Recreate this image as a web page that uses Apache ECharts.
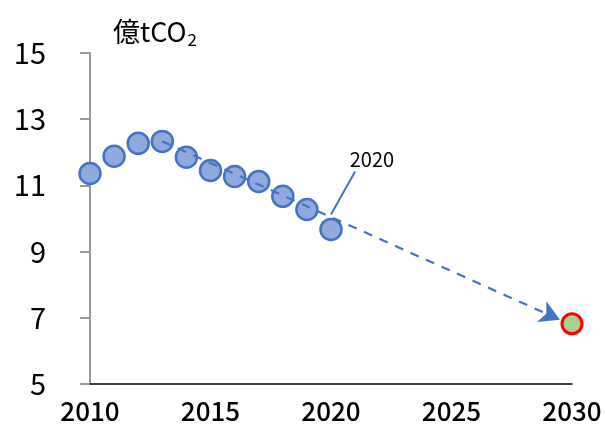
<!DOCTYPE html>
<html><head><meta charset="utf-8">
<script src="https://cdn.jsdelivr.net/npm/echarts@6/dist/echarts.min.js"></script>
<style>html,body{margin:0;padding:0;background:#fff}#c{width:605px;height:430px}</style>
</head><body><div id="c"></div>
<script>
const years = [2010,2011,2012,2013,2014,2015,2016,2017,2018,2019,2020];
const emissions = [11.36,11.88,12.27,12.33,11.85,11.45,11.27,11.12,10.67,10.27,9.67];
const targetYear = 2030;
const targetValue = 6.82;
const trendStart = [2013, 12.33];
const trendEnd = [2029.5, 6.94];
const xTicks = [2010, 2015, 2020, 2025, 2030];
const yTicks = [5, 7, 9, 11, 13, 15];
const annotationText = '2020';
const leaderFrom = [2021.0, 11.42];
const leaderTo = [2020.0, 10.12];
const annotationPos = [2021.7, 11.8];

const FONT = '"Noto Sans CJK JP", "Noto Sans", sans-serif';
const chart = echarts.init(document.getElementById('c'), null, {renderer:'canvas'});
chart.setOption({
  animation:false,
  backgroundColor:'#fff',
  title:{
    left:108, top:10,
    text:'{a|億tCO}{s|2}',
    textStyle:{fontWeight:'normal', rich:{
      a:{fontSize:27, color:'#000', fontFamily:FONT, fontWeight:'normal'},
      s:{fontSize:17, color:'#000', fontFamily:FONT, fontWeight:'normal', padding:[16,0,0,1]}
    }}
  },
  grid:{left:90, right:33, top:53, bottom:46, containLabel:false, outerBoundsMode:'none'},
  xAxis:{
    type:'value', min:xTicks[0], max:xTicks[xTicks.length-1], interval:5,
    axisLine:{show:true, onZero:false, lineStyle:{color:'#000', width:1.5}},
    axisTick:{show:false},
    splitLine:{show:false},
    axisLabel:{fontSize:26, color:'#000', margin:14, fontWeight:500, fontFamily:FONT, formatter:v=>String(v)}
  },
  yAxis:{
    type:'value', min:yTicks[0], max:yTicks[yTicks.length-1], interval:2,
    axisLine:{show:true, lineStyle:{color:'#999', width:2}},
    axisTick:{show:true, length:10, lineStyle:{color:'#999', width:2}},
    splitLine:{show:false},
    axisLabel:{fontSize:29, color:'#000', margin:44, fontFamily:FONT}
  },
  series:[
    {
      type:'scatter', z:2,
      data:years.map((y,i)=>[y, emissions[i]]),
      symbolSize:21,
      itemStyle:{color:'#8FAADC', borderColor:'#4472C4', borderWidth:2.5, opacity:1}
    },
    {
      type:'scatter', z:3,
      data:[[targetYear, targetValue]],
      symbolSize:20,
      itemStyle:{color:'#A9D18E', borderColor:'#FF0000', borderWidth:3, opacity:1}
    },
    {
      type:'line', z:5, data:[], symbol:'none',
      markLine:{
        silent:true, animation:false,
        symbol:['none','triangle'], symbolSize:[0,0],
        data:[
          [{coord:trendStart, symbol:'none', lineStyle:{color:'#4472C4', type:[9,8], width:2.2}, label:{show:false}},
           {coord:trendEnd, symbol:'arrow', symbolSize:[17,20], symbolRotate:null}],
          [{coord:leaderFrom, symbol:'none', lineStyle:{color:'#4472C4', type:'solid', width:2}, label:{show:false}},
           {coord:leaderTo, symbol:'none'}]
        ]
      },
      markPoint:{
        silent:true,
        symbol:'circle', symbolSize:1,
        itemStyle:{color:'rgba(0,0,0,0)'},
        label:{show:true, position:'inside', formatter:annotationText, fontSize:20, color:'#000', fontFamily:FONT},
        data:[{coord:annotationPos, value:annotationText}]
      }
    }
  ]
});
</script></body></html>
